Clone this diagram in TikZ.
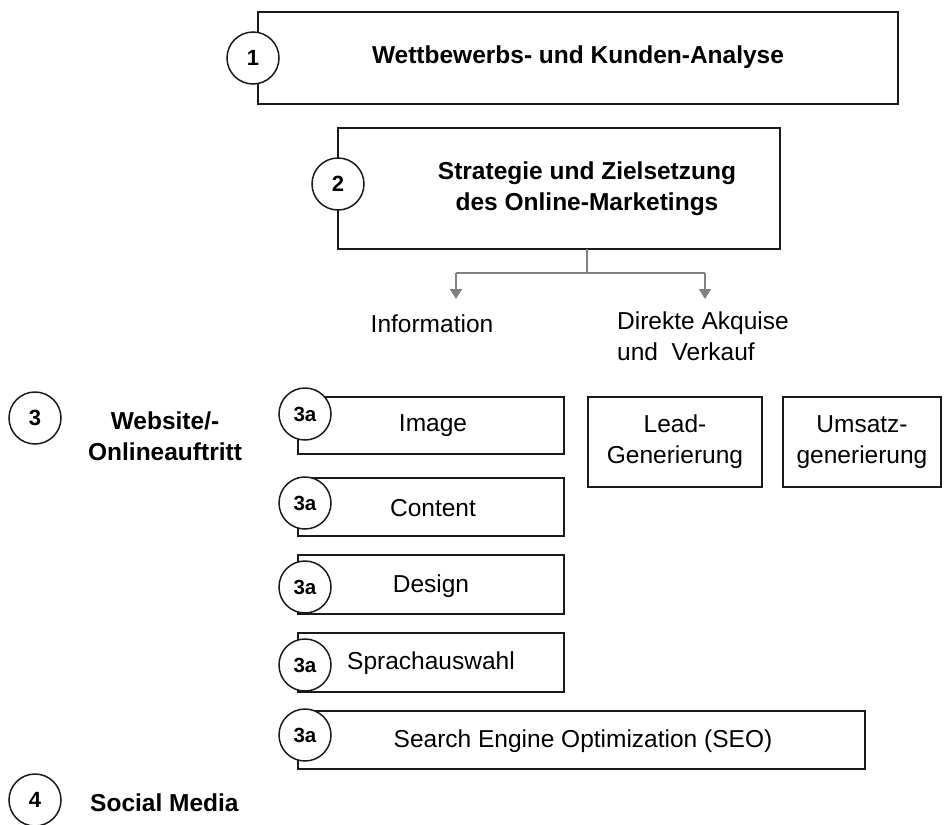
\documentclass[tikz,border=0pt]{standalone}
\usepackage{fontspec}
\setmainfont{Liberation Sans}
\usetikzlibrary{arrows.meta}
\definecolor{ink}{HTML}{1A1A1A}
\definecolor{conn}{HTML}{808080}
\tikzset{
  box/.style={draw=ink, line width=1.7pt, fill=white},
  num/.style={draw=ink, line width=1.5pt, fill=white, circle, minimum size=52pt, inner sep=0pt, font=\fontsize{22}{26}\selectfont\bfseries},
  sub/.style={num, font=\fontsize{20.5}{24}\selectfont\bfseries},
  lbl/.style={font=\fontsize{24.5}{31}\selectfont, inner sep=0pt, align=center},
  blbl/.style={font=\fontsize{24.5}{31}\selectfont\bfseries, inner sep=0pt, align=center},
  link/.style={draw=conn, line width=1.5pt},
  arr/.style={link, -{Triangle[width=12pt,length=10pt]}},
}
\begin{document}
\begin{tikzpicture}[x=1pt,y=-1pt]
\useasboundingbox (0,0) rectangle (946,825);
% box 1
\draw[box] (258,12) rectangle (898,104);
\node[num] (c1) at (253,58) {1};
\node[blbl] (t1) at (578,57) {Wettbewerbs- und Kunden-Analyse};
% box 2
\draw[box] (338,128) rectangle (780,249);
\coordinate (b2) at (587,249);
\node[num] (c2) at (338,184) {2};
\node[blbl] (t2) at (587,189) {Strategie und Zielsetzung\\des Online-Marketings};
% connectors
\coordinate (j) at (587,273);
\coordinate (jl) at (456,273);
\coordinate (jr) at (705,273);
\coordinate (al) at (456,299);
\coordinate (ar) at (705,299);
\draw[link] (b2) -- (j);
\draw[link] (jl) -- (jr);
\draw[arr] (jl) -- (al);
\draw[arr] (jr) -- (ar);
\node[lbl] (info) at (432,324) {Information};
\node[lbl, anchor=north west, align=left] (dir) at (617,312) {Direkte Akquise\\und\ \ Verkauf};
% 3
\node[num] (c3) at (35,418) {3};
\node[blbl] (web) at (165,436) {Website/-\\Onlineauftritt};
% 3a boxes
\draw[box] (298,397) rectangle (564,454);
\node[sub] (a1) at (305,414) {3a};
\node[lbl] (img) at (433,426) {Image};
\draw[box] (298,478) rectangle (564,536);
\node[sub] (a2) at (305,503) {3a};
\node[lbl] (cont) at (433,508) {Content};
\draw[box] (298,555) rectangle (564,614);
\node[sub] (a3) at (305,587) {3a};
\node[lbl] (des) at (431,586) {Design};
\draw[box] (298,633) rectangle (564,692);
\node[sub] (a4) at (305,665) {3a};
\node[lbl] (spr) at (431,663) {Sprachauswahl};
\draw[box] (298,711) rectangle (865,769);
\node[sub] (a5) at (305,735) {3a};
\node[lbl] (seo) at (583,741) {Search Engine Optimization (SEO)};
% lead / umsatz
\draw[box] (588,397) rectangle (762,487);
\node[lbl] (lead) at (675,442) {Lead-\\Generierung};
\draw[box] (783,397) rectangle (941,487);
\node[lbl] (ums) at (862,442) {Umsatz-\\generierung};
% 4
\node[num] (c4) at (35,800) {4};
\node[blbl, anchor=west] (soc) at (90,803) {Social Media};
\end{tikzpicture}
\end{document}
